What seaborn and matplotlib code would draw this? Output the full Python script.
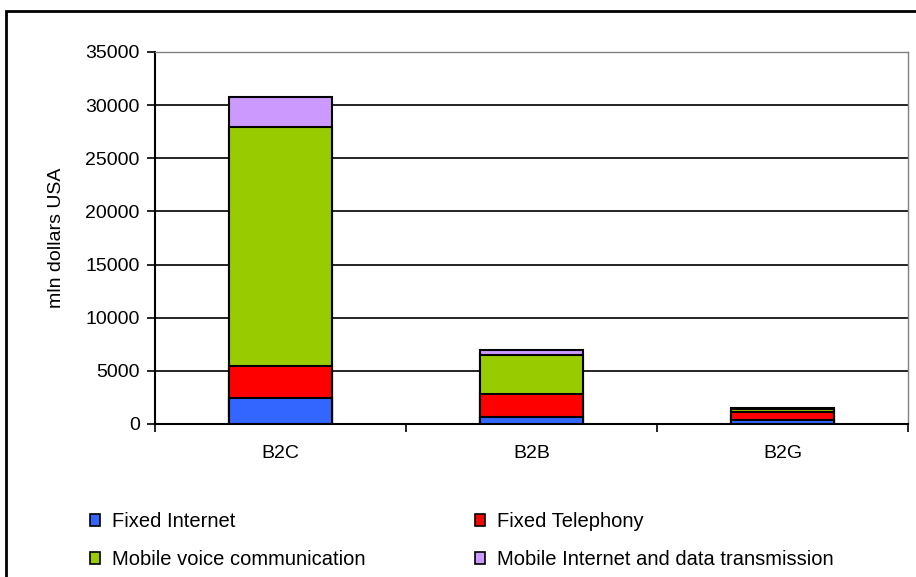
import numpy as np
import pandas as pd
import matplotlib.pyplot as plt
import seaborn as sns
from matplotlib.patches import Patch, Rectangle

# === Data ===
segments = ['B2C', 'B2B', 'B2G']
series = ['Fixed Internet', 'Fixed Telephony', 'Mobile voice communication',
          'Mobile Internet and data transmission']
fixed_internet = [2450, 700, 350]
fixed_telephony = [3000, 2100, 800]
mobile_voice = [22450, 3650, 250]
mobile_internet = [2850, 520, 150]
colors = ['#3366FF', '#FF0000', '#99CC00', '#CC99FF']

values = np.array([fixed_internet, fixed_telephony, mobile_voice, mobile_internet])
cum = values.cumsum(axis=0)

sns.set_style('white')
plt.rcParams['font.family'] = ['Liberation Sans', 'DejaVu Sans']
plt.rcParams['text.color'] = 'black'
plt.rcParams['axes.labelcolor'] = 'black'
plt.rcParams['xtick.color'] = 'black'
plt.rcParams['ytick.color'] = 'black'

fig = plt.figure(figsize=(9.16, 5.77), dpi=100)
ax = fig.add_axes([155 / 916, 1 - 424 / 577, 753 / 916, 372 / 577])

# draw stacked bars from the top layer down
for i in range(len(series) - 1, -1, -1):
    df = pd.DataFrame({'segment': segments, 'value': cum[i]})
    sns.barplot(data=df, x='segment', y='value', color=colors[i], width=0.41,
                edgecolor='black', linewidth=1.5, saturation=1, ax=ax, zorder=3)

ax.set_ylim(0, 35000)
ax.set_xlim(-0.5, 2.5)
ax.set_yticks(range(0, 35001, 5000))
ax.yaxis.grid(True, color='black', linewidth=1.2, zorder=0)
ax.set_axisbelow(True)
ax.set_xlabel('')
ax.set_ylabel('mln dollars USA', fontsize=14, labelpad=15)
ax.tick_params(axis='y', labelsize=14, length=6, width=1.2, left=True, pad=5)
ax.tick_params(axis='x', labelsize=14, length=0, pad=15)
ax.set_xticks([-0.5, 0.5, 1.5, 2.5], minor=True)
ax.tick_params(axis='x', which='minor', bottom=True, direction='out', length=6, width=1.2)

for side in ['top', 'right']:
    ax.spines[side].set_color('#808080')
    ax.spines[side].set_linewidth(1)
for side in ['left', 'bottom']:
    ax.spines[side].set_color('black')
    ax.spines[side].set_linewidth(1.5)

handles = [Patch(facecolor=c, edgecolor='black', linewidth=1.2) for c in colors]
order = [0, 2, 1, 3]  # legend fills row by row in the reference
fig.legend([handles[i] for i in order], [series[i] for i in order], ncol=2,
           loc='upper left', bbox_to_anchor=(72 / 916, 1 - 494 / 577),
           frameon=False, fontsize=14.5, handlelength=0.5, handleheight=0.5,
           handletextpad=0.6, columnspacing=5.4, labelspacing=0.95)

# outer chart frame
fig.patches.append(Rectangle((6 / 916, -0.1), 1.0, 1 - 11 / 577 + 0.1,
                             transform=fig.transFigure, fill=False,
                             edgecolor='black', linewidth=2))

fig.savefig('out.png', dpi=100)
